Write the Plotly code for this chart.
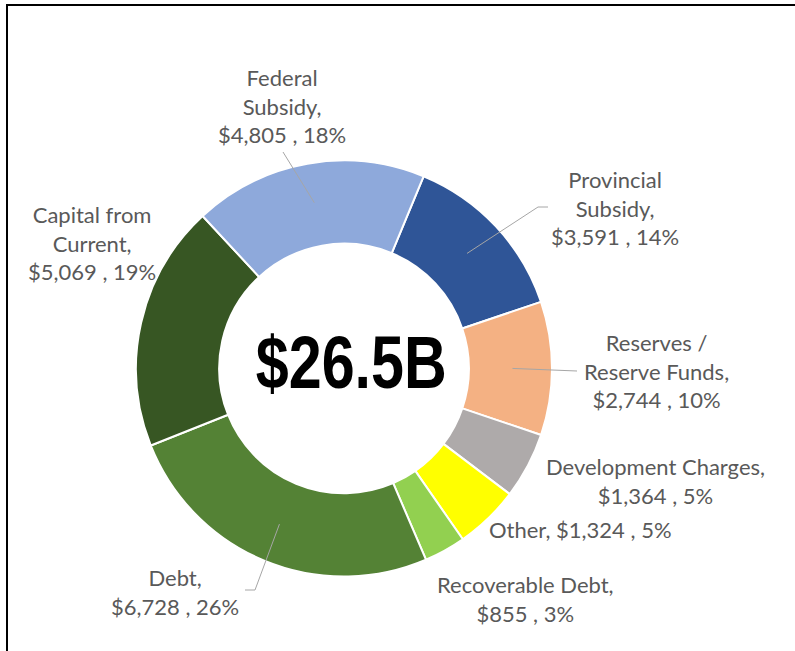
import math
import plotly.graph_objects as go

# ---------------- data ----------------
names = ["Provincial Subsidy", "Reserves / Reserve Funds", "Development Charges",
         "Other", "Recoverable Debt", "Debt", "Capital from Current", "Federal Subsidy"]
label_heads = ["Provincial<br>Subsidy", "Reserves /<br>Reserve Funds", "Development Charges",
               "Other", "Recoverable Debt", "Debt", "Capital from<br>Current", "Federal<br>Subsidy"]
values = [3591, 2744, 1364, 1324, 855, 6728, 5069, 4805]
pcts = [14, 10, 5, 5, 3, 26, 19, 18]
colors = ["#2F5597", "#F4B183", "#AEAAAA", "#FFFF00", "#92D050", "#548235", "#375623", "#8EA9DB"]

# ---------------- layout constants (pixels) ----------------
W, H = 795, 651
CX, CY, R = 344, 368.5, 208
ROT = 22.5
HOLE = 0.6

def px(x):
    return x / W

def py(y):
    return 1 - y / H

label_seps = ["<br>", "<br>", "<br>", " ", "<br>", "<br>", "<br>", "<br>"]
label_pos = [(615, 208), (656, 371), (655, 481), (580, 529), (525, 599),
             (175, 592), (92, 243), (282, 106)]
# outer leader points (None = no leader line)
leader_outer = [[(538, 207), (548, 207)], [(577, 371)], None, None, None,
                [(255, 590), (245, 590)], None, [(283, 152)]]

fig = go.Figure()
fig.add_trace(go.Pie(
    values=values, labels=names, sort=False, direction="clockwise", rotation=ROT,
    hole=HOLE, textinfo="none", hoverinfo="label+value",
    marker=dict(colors=colors, line=dict(color="white", width=2)),
    domain=dict(x=[px(CX - R), px(CX + R)], y=[py(CY + R), py(CY - R)]),
    showlegend=False,
))

annotations = []
shapes = []
total = sum(values)
cum = 0
for i, v in enumerate(values):
    mid = ROT + (cum + v / 2) / total * 360
    cum += v
    txt = f"{label_heads[i]},{label_seps[i]}${v:,} , {pcts[i]}%"
    lx, ly = label_pos[i]
    annotations.append(dict(
        x=px(lx), y=py(ly), xref="paper", yref="paper", text=txt, showarrow=False,
        xanchor="center", yanchor="middle", align="center",
        font=dict(family="Lato, Open Sans, sans-serif", size=22, color="#595959")))
    if leader_outer[i]:
        a = math.radians(mid)
        r_in = R * 0.81
        pts = [(CX + r_in * math.sin(a), CY - r_in * math.cos(a))] + leader_outer[i]
        for (x0, y0), (x1, y1) in zip(pts[:-1], pts[1:]):
            shapes.append(dict(type="line", xref="paper", yref="paper",
                               x0=px(x0), y0=py(y0), x1=px(x1), y1=py(y1),
                               line=dict(color="#A6A6A6", width=1)))

annotations.append(dict(
    x=px(351), y=py(362), xref="paper", yref="paper",
    text=f"<b>${total / 1000:.1f}B</b>", showarrow=False,
    xanchor="center", yanchor="middle", name="center_total",
    font=dict(family="Liberation Sans, Arial, sans-serif", size=74, color="black")))

# frame
shapes.append(dict(type="line", xref="paper", yref="paper", x0=px(6), y0=py(5), x1=px(795), y1=py(5),
                   line=dict(color="black", width=2)))
shapes.append(dict(type="line", xref="paper", yref="paper", x0=px(7), y0=py(5), x1=px(7), y1=py(651),
                   line=dict(color="black", width=2)))

fig.update_layout(
    width=W, height=H, margin=dict(l=0, r=0, t=0, b=0),
    paper_bgcolor="white", plot_bgcolor="white",
    annotations=annotations, shapes=shapes,
)

post = """
document.body.style.margin='0';
document.body.style.overflow='hidden';
document.querySelectorAll('.annotation-text').forEach(function(t){
  if (t.textContent.indexOf('B') === t.textContent.length - 1 && t.textContent.charAt(0) === '$') {
    t.style.transformBox = 'fill-box';
    t.style.transformOrigin = 'center';
    t.style.transform = 'scaleX(0.8)';
  }
});
"""

fig.write_html("out.html", config={"displayModeBar": False}, post_script=post)
